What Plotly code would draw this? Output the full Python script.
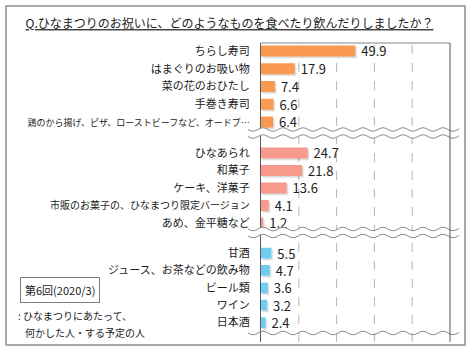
import plotly.graph_objects as go

# ---------------- data ----------------
food = ["ちらし寿司", "はまぐりのお吸い物", "菜の花のおひたし", "手巻き寿司",
        "鶏のから揚げ、ピザ、ローストビーフなど、オードブ…"]
food_v = [49.9, 17.9, 7.4, 6.6, 6.4]
sweets = ["ひなあられ", "和菓子", "ケーキ、洋菓子",
          "市販のお菓子の、ひなまつり限定バージョン", "あめ、金平糖など"]
sweets_v = [24.7, 21.8, 13.6, 4.1, 1.2]
drinks = ["甘酒", "ジュース、お茶などの飲み物", "ビール類", "ワイン", "日本酒"]
drinks_v = [5.5, 4.7, 3.6, 3.2, 2.4]
x_ticks = [0, 20, 40, 60, 80, 100]
title = "Q.ひなまつりのお祝いに、どのようなものを食べたり飲んだりしましたか？"
badge = "第6回(2020/3)"
note1 = ": ひなまつりにあたって、"
note2 = "何かした人・する予定の人"

# ---------------- geometry ----------------
W, H = 470, 350
L, R, T, B = 261, 450, 43, 342
FONT = "Noto Sans CJK JP"


def px_x(x):
    return (x - L) / (R - L)


def px_y(y):
    return (B - y) / (B - T)


def lab(s):
    n = len(s)
    size = 11 if n <= 14 else (10 if n <= 20 else 9)
    if size == 11:
        return s
    return f'<span style="font-size:{size}px">{s}</span>'


sections = [
    (food, food_v, "#fa9a52", "y", [5.165, -0.45]),
    (sweets, sweets_v, "#f79a8c", "y2", [5.105, -0.59]),
    (drinks, drinks_v, "#6fcdf2", "y3", [5.113, -0.615]),
]

fig = go.Figure()
BW = 0.62
for cats, vals, col, ax, rng in sections:
    fig.add_trace(go.Bar(
        x=vals, y=cats, base=0.8, orientation="h", width=BW, offset=-BW / 2 + 0.1,
        marker=dict(color="rgba(0,0,0,0.13)", line=dict(width=0)),
        hoverinfo="skip", showlegend=False, yaxis=ax, xaxis="x"))
    fig.add_trace(go.Bar(
        x=vals, y=cats, orientation="h", width=BW, offset=-BW / 2,
        marker=dict(color=col, line=dict(width=0)),
        texttemplate="\u00a0%{x:.1f}", textposition="outside", cliponaxis=False,
        constraintext="none",
        textfont=dict(family=FONT, size=13, color="#222222"),
        showlegend=False, yaxis=ax, xaxis="x"))

third = 1 / 3
domains = [[2 * third, 1], [third, 2 * third], [0, third]]
XMIN, XMAX = x_ticks[0], x_ticks[-1]
layout = dict(
    width=W, height=H,
    margin=dict(l=L, r=W - R, t=T, b=H - B, pad=0),
    paper_bgcolor="white", plot_bgcolor="rgba(0,0,0,0)",
    barmode="overlay",
    font=dict(family=FONT, size=11, color="#1a1a1a"),
    title=dict(text=f"<u>{title}</u>", x=229.5 / W, xanchor="center", xref="container",
               y=1 - 24 / H, yanchor="middle", yref="container",
               font=dict(family=FONT, size=12, color="#1a1a1a")),
    xaxis=dict(range=[XMIN, XMAX], tickvals=x_ticks, showticklabels=False,
               showgrid=False, zeroline=False, showline=False, ticks="",
               anchor="y3", fixedrange=True),
)
for i, (cats, vals, col, ax, rng) in enumerate(sections):
    key = "yaxis" if ax == "y" else "yaxis" + ax[1:]
    layout[key] = dict(
        domain=domains[i], range=rng, type="category", anchor="x",
        tickvals=cats, ticktext=[lab(c) for c in cats],
        tickfont=dict(family=FONT, size=11, color="#1a1a1a"),
        ticks="", ticklabelstandoff=8, showgrid=False, zeroline=False,
        showline=True, linecolor="#595959", linewidth=1, fixedrange=True)
fig.update_layout(**layout)


def wave(x0, x1, yc, amp=1.7, period=20.0, step=1.0):
    import math
    pts = []
    x = x0
    while x <= x1 + 1e-9:
        pts.append((x, yc + amp * math.sin(2 * math.pi * (x - x0) / period)))
        x += step
    return pts


def path_of(pts, close=False):
    s = "M " + " L ".join(f"{px_x(x):.4f},{px_y(y):.4f}" for x, y in pts)
    return s + (" Z" if close else "")


shapes = []
# dashed gridlines at inner ticks (full plot height), axis fraction from tick value
for t in x_ticks[1:-1]:
    fx = (t - XMIN) / (XMAX - XMIN)
    shapes.append(dict(type="line", xref="paper", yref="paper", x0=fx, x1=fx, y0=0, y1=1,
                       line=dict(color="#b5b5b5", width=1, dash="dash"), layer="between"))
WX0, WX1 = 248, 459
for ytop, ybot in [(129.5, 136.5), (229.0, 236.0)]:
    up = wave(WX0, WX1, ytop)
    lo = wave(WX0, WX1, ybot)
    shapes.append(dict(type="path", xref="paper", yref="paper", layer="above",
                       path=path_of(up + lo[::-1], close=True),
                       fillcolor="white", line=dict(width=0)))
    for p in (up, lo):
        shapes.append(dict(type="path", xref="paper", yref="paper", layer="above",
                           path=path_of(p), line=dict(color="#8c8c8c", width=1)))
shapes.append(dict(type="path", xref="paper", yref="paper", layer="above",
                   path=path_of(wave(WX0, WX1, 333)), line=dict(color="#8c8c8c", width=1)))
# plot frame top & right
shapes.append(dict(type="line", xref="paper", yref="paper", x0=0, x1=1, y0=1, y1=1,
                   line=dict(color="#868686", width=1), layer="above"))
shapes.append(dict(type="line", xref="paper", yref="paper", x0=1, x1=1, y0=0, y1=1,
                   line=dict(color="#595959", width=1), layer="above"))
# outer border
shapes.append(dict(type="rect", xref="paper", yref="paper",
                   x0=px_x(6), x1=px_x(465), y0=px_y(345), y1=px_y(6),
                   line=dict(color="#8f8f8f", width=1.5), fillcolor="rgba(0,0,0,0)"))
fig.update_layout(shapes=shapes)

fig.add_annotation(text=badge, xref="paper", yref="paper", x=px_x(59.5), y=px_y(289.5),
                   xanchor="center", yanchor="middle", showarrow=False,
                   font=dict(family=FONT, size=11, color="#1a1a1a"),
                   bordercolor="#7f7f7f", borderwidth=1, borderpad=4, bgcolor="white")
fig.add_annotation(text=note1, xref="paper", yref="paper", x=px_x(16), y=px_y(315),
                   xanchor="left", yanchor="middle", showarrow=False,
                   font=dict(family=FONT, size=10, color="#1a1a1a"))
fig.add_annotation(text=note2, xref="paper", yref="paper", x=px_x(23), y=px_y(332),
                   xanchor="left", yanchor="middle", showarrow=False,
                   font=dict(family=FONT, size=10, color="#1a1a1a"))

fig.write_html("out.html")
